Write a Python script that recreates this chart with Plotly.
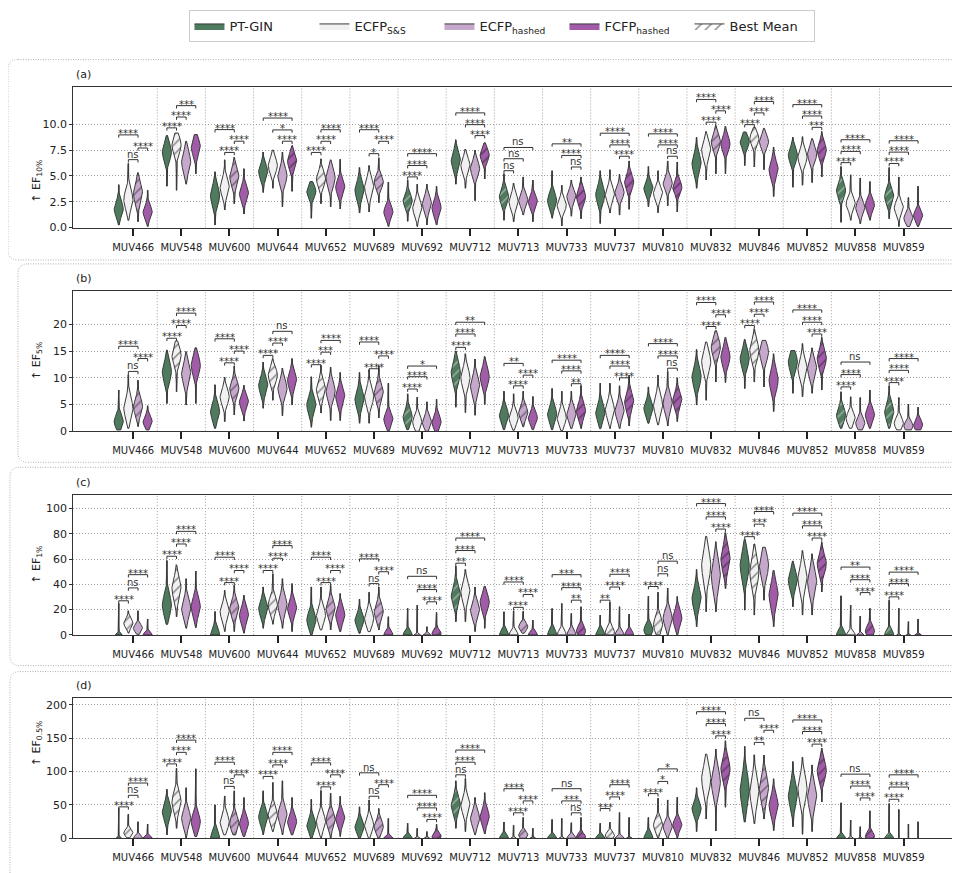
import numpy as np
import plotly.graph_objects as go

TARGETS = ["MUV466", "MUV548", "MUV600", "MUV644", "MUV652", "MUV689", "MUV692", "MUV712",
           "MUV713", "MUV733", "MUV737", "MUV810", "MUV832", "MUV846", "MUV852", "MUV858", "MUV859"]
METHODS = ["PT-GIN", "ECFP<sub>S&amp;S</sub>", "ECFP<sub>hashed</sub>", "FCFP<sub>hashed</sub>"]
COLORS = ["#4e7b5d", "#f1f1f1", "#c7a8cd", "#a25ba9"]
HATCH_FG = ["#e6e6e6", "#1a1a1a", "#1a1a1a", "#1a1a1a"]

# ---------------- (a) EF 10% : per method [PT-GIN, ECFP S&S, ECFP hashed, FCFP hashed]
A_LO = [[0.25, 4.0, 0.25, 3.4, 0.9, 1.4, 0.6, 4.2, 0.7, 0.9, 0.4, 2.0, 3.8, 6.0, 3.9, 0.5, 0.85],
        [0.7, 3.6, 1.7, 3.8, 2.3, 1.5, 0.1, 3.8, 0.56, 0.15, 1.4, 1.44, 4.6, 5.86, 4.1, 0.7, 0.1],
        [0.56, 4.2, 2.3, 2.0, 2.0, 2.4, 0.25, 2.6, 1.2, 1.1, 1.2, 2.1, 5.2, 5.6, 4.35, 0.35, 0.1],
        [0.1, 5.2, 1.3, 3.5, 1.8, 0.1, 0.25, 4.7, 0.56, 0.84, 1.76, 1.5, 5.2, 3.0, 4.9, 0.7, 0.1]]
A_MID = [[1.8, 7.3, 3.1, 5.4, 3.5, 3.6, 2.6, 6.5, 3.0, 2.6, 3.2, 3.8, 6.2, 8.3, 7.0, 3.6, 3.0],
         [2.7, 8.0, 3.9, 6.0, 4.7, 3.9, 1.9, 6.0, 2.5, 2.15, 3.2, 3.3, 7.5, 8.6, 6.8, 2.3, 1.9],
         [3.3, 6.35, 4.9, 5.0, 4.8, 4.4, 2.3, 5.7, 2.65, 3.0, 3.4, 4.3, 8.3, 8.3, 7.1, 1.9, 0.9],
         [1.5, 7.8, 3.3, 6.4, 3.9, 1.5, 1.9, 7.0, 2.5, 3.0, 4.4, 3.9, 8.1, 5.6, 7.5, 2.15, 1.15]]
A_HI = [[4.15, 8.9, 5.4, 7.3, 4.45, 5.8, 4.6, 8.5, 5.2, 5.5, 5.5, 5.9, 8.75, 9.25, 8.75, 5.9, 5.8],
        [6.2, 9.15, 6.55, 7.5, 6.65, 6.0, 4.2, 7.6, 4.3, 4.1, 5.6, 5.5, 9.3, 9.7, 8.8, 5.1, 4.9],
        [5.3, 8.35, 6.8, 7.3, 6.55, 6.75, 4.2, 7.5, 4.9, 4.6, 5.15, 6.45, 9.9, 9.6, 8.6, 4.8, 2.9],
        [3.6, 9.0, 5.7, 7.95, 6.6, 4.4, 4.0, 8.2, 4.6, 4.9, 6.45, 6.35, 9.8, 7.8, 9.3, 4.45, 4.0]]
A_SD = [[0.7, 0.8, 0.9, 0.7, 0.6, 0.8, 0.6, 0.8, 0.7, 0.7, 0.8, 0.6, 0.9, 0.6, 0.7, 0.7, 0.7],
        [0.9, 0.8, 0.8, 0.7, 0.7, 0.8, 0.7, 0.7, 0.7, 0.6, 0.7, 0.6, 0.8, 0.6, 0.7, 0.6, 0.6],
        [0.9, 0.9, 0.8, 0.8, 0.8, 0.6, 0.7, 0.7, 0.6, 0.6, 0.6, 0.6, 0.7, 0.6, 0.7, 0.6, 0.5],
        [0.6, 0.8, 0.7, 0.7, 0.7, 0.6, 0.7, 0.6, 0.6, 0.7, 0.7, 0.6, 0.7, 0.8, 0.7, 0.6, 0.5]]
A_BEST = [2, 1, 2, 3, 1, 2, 0, 3, 0, 3, 3, 3, 2, 1, 3, 0, 0]
A_SIG = [[(1, 2, "ns", 6.57), (2, 3, "****", 7.7), (0, 2, "****", 8.97)],
         [(0, 1, "****", 9.65), (1, 2, "****", 10.7), (1, 3, "***", 11.8)],
         [(1, 2, "****", 7.27), (2, 3, "****", 8.36), (0, 2, "****", 9.48)],
         [(2, 3, "****", 8.36), (1, 3, "*", 9.45), (0, 3, "****", 10.6)],
         [(0, 1, "****", 7.27), (1, 2, "****", 8.35), (1, 3, "****", 9.47)],
         [(1, 2, "*", 7.15), (2, 3, "****", 8.35), (0, 2, "****", 9.47)],
         [(0, 1, "****", 4.9), (0, 2, "****", 6.0), (0, 3, "****", 7.15)],
         [(2, 3, "****", 8.9), (1, 3, "****", 9.96), (0, 3, "****", 11.1)],
         [(0, 1, "ns", 5.5), (0, 2, "ns", 6.66), (0, 3, "ns", 7.75)],
         [(2, 3, "ns", 5.86), (1, 3, "****", 6.98), (0, 3, "**", 8.1)],
         [(2, 3, "****", 6.9), (1, 3, "****", 8.0), (0, 3, "****", 9.13)],
         [(2, 3, "ns", 6.9), (1, 3, "****", 8.0), (0, 3, "****", 9.07)],
         [(1, 2, "****", 10.2), (2, 3, "****", 11.3), (0, 2, "****", 12.4)],
         [(0, 1, "****", 9.96), (1, 2, "****", 11.1), (1, 3, "****", 12.2)],
         [(2, 3, "***", 9.7), (1, 3, "****", 10.8), (0, 3, "****", 11.9)],
         [(0, 1, "****", 6.28), (0, 2, "****", 7.37), (0, 3, "****", 8.5)],
         [(0, 1, "****", 6.2), (0, 2, "****", 7.3), (0, 3, "****", 8.4)]]

# ---------------- (b) EF 5%
B_LO = [[0.25, 5.2, 0.56, 4.3, 0.75, 1.5, 0.3, 4.5, 0.3, 0.3, 0.5, 1.5, 4.9, 8.0, 7.1, 0.56, 0.56],
        [0.56, 7.4, 1.8, 5.8, 3.4, 1.5, 0.0, 3.5, 0.2, 0.1, 0.5, 1.2, 5.8, 9.2, 6.45, 0.56, 0.25],
        [0.87, 4.9, 3.05, 2.9, 2.0, 2.5, 0.0, 3.0, 0.8, 0.5, 0.5, 1.0, 9.2, 8.3, 7.1, 0.25, 0.25],
        [0.25, 5.2, 1.9, 4.9, 2.0, 0.1, 0.0, 5.0, 0.3, 0.5, 1.0, 1.8, 9.1, 3.7, 7.7, 0.56, 0.25]]
B_MID = [[1.8, 11.1, 3.7, 8.6, 4.9, 6.0, 2.7, 11.0, 3.0, 3.2, 3.5, 4.3, 10.2, 13.6, 13.0, 3.05, 3.66],
         [4.3, 14.2, 6.45, 10.5, 7.8, 6.5, 1.7, 10.0, 2.5, 2.5, 4.0, 4.9, 13.0, 15.1, 11.7, 2.4, 1.5],
         [4.6, 10.8, 8.0, 8.0, 7.5, 7.2, 1.7, 8.5, 3.5, 3.2, 3.8, 5.2, 15.7, 14.8, 11.7, 1.5, 1.0],
         [1.8, 12.3, 5.5, 9.55, 6.5, 2.2, 1.7, 10.2, 2.5, 3.8, 5.5, 5.8, 13.9, 9.55, 13.6, 3.05, 1.2]]
B_HI = [[7.7, 15.2, 8.7, 12.95, 10.2, 11.0, 7.0, 15.0, 7.5, 8.0, 9.0, 8.3, 15.3, 17.2, 15.1, 7.4, 8.5],
        [10.6, 16.9, 10.1, 13.6, 12.3, 11.5, 6.4, 14.5, 7.0, 7.5, 9.0, 10.5, 16.7, 19.2, 16.4, 6.45, 6.3],
        [9.55, 14.9, 12.2, 11.8, 12.0, 12.3, 5.5, 13.5, 7.5, 7.5, 8.5, 11.2, 18.8, 17.0, 15.6, 6.3, 5.1],
        [4.78, 15.6, 8.6, 13.6, 11.0, 9.0, 6.0, 14.0, 6.5, 8.5, 10.5, 10.0, 17.6, 14.5, 17.6, 7.7, 4.5]]
B_SD = [[1.2, 1.8, 1.5, 1.5, 1.5, 1.6, 1.3, 1.8, 1.3, 1.4, 1.5, 1.3, 1.8, 1.6, 1.6, 1.3, 1.5],
        [1.8, 1.6, 1.4, 1.4, 1.5, 1.6, 1.2, 1.7, 1.2, 1.3, 1.5, 1.7, 1.8, 1.7, 1.7, 1.1, 1.0],
        [1.5, 1.8, 1.4, 1.5, 1.6, 1.5, 1.1, 1.7, 1.2, 1.3, 1.4, 1.6, 1.6, 1.6, 1.6, 1.0, 0.8],
        [1.0, 1.7, 1.2, 1.5, 1.5, 1.2, 1.2, 1.6, 1.1, 1.4, 1.6, 1.4, 1.6, 1.9, 1.6, 1.2, 0.9]]
B_BEST = [2, 1, 2, 1, 1, 2, 0, 0, 2, 3, 3, 3, 2, 1, 3, 0, 0]
B_SIG = [[(1, 2, "ns", 11.2), (2, 3, "****", 13.6), (0, 2, "****", 15.9)],
         [(0, 1, "****", 17.4), (1, 2, "****", 19.8), (1, 3, "****", 22.1)],
         [(1, 2, "****", 12.8), (2, 3, "****", 15.0), (0, 2, "****", 17.3)],
         [(0, 1, "****", 14.2), (1, 2, "****", 16.5), (1, 3, "ns", 18.7)],
         [(0, 1, "****", 12.45), (1, 2, "***", 14.8), (1, 3, "****", 17.0)],
         [(1, 2, "****", 11.7), (2, 3, "****", 14.1), (0, 2, "****", 16.7)],
         [(0, 1, "****", 7.9), (0, 2, "****", 10.2), (0, 3, "*", 12.2)],
         [(0, 1, "****", 15.7), (0, 2, "****", 18.2), (0, 3, "**", 20.4)],
         [(1, 2, "****", 8.5), (2, 3, "****", 10.5), (0, 2, "**", 12.7)],
         [(2, 3, "**", 8.9), (1, 3, "****", 11.3), (0, 3, "****", 13.3)],
         [(2, 3, "****", 10.0), (1, 3, "****", 12.2), (0, 3, "****", 14.2)],
         [(2, 3, "ns", 11.8), (1, 3, "****", 14.1), (0, 3, "****", 16.4)],
         [(1, 2, "****", 19.6), (2, 3, "****", 21.8), (0, 2, "****", 24.1)],
         [(0, 1, "****", 19.8), (1, 2, "****", 21.9), (1, 3, "****", 24.2)],
         [(2, 3, "****", 18.2), (1, 3, "****", 20.4), (0, 3, "****", 22.7)],
         [(0, 1, "****", 8.3), (0, 2, "****", 10.6), (0, 3, "ns", 12.95)],
         [(0, 1, "****", 9.1), (0, 2, "****", 11.4), (0, 3, "****", 13.6)]]

# ---------------- (c) EF 1%
C_LO = [[0, 8.4, 0, 5.2, 0, 1.3, 0, 10.5, 0, 0, 0, 0, 6.5, 19.6, 22.3, 0, 0],
        [1.3, 14.4, 2.6, 8.4, 3.9, 2.6, 0, 10.5, 0, 0, 0, 0, 18.3, 15.7, 15.7, 0, 0],
        [0.5, 5.2, 2.6, 5.2, 3.9, 3.9, 0, 2.6, 1.3, 0, 0, 0, 18.3, 27.5, 15.7, 0, 0],
        [0, 5.8, 1.3, 2.6, 2.6, 0, 0, 5.2, 0, 0, 0, 0, 36.7, 6.5, 34.0, 0, 0]]
C_MID = [[-1.5, 23.6, 0, 21, 11.8, 11.8, 0, 31.4, 0, 0, 0, 4, 28.8, 55, 43.2, 0, 0],
         [9.2, 36.7, 18.3, 23.6, 15.7, 13.1, -1, 34, 0, 0, 2, 8, 55, 49.7, 44.5, 0, -1],
         [5.2, 21, 21, 23.6, 21, 18.3, -1, 19.6, 6.5, 0, 0, 13.1, 47, 55, 41.9, -1, -1],
         [0, 22.3, 15.7, 21, 15.7, 0, 1, 26, 0, 3, 0, 13.1, 60, 31.4, 56.3, 3, -1]]
C_HI = [[24.9, 58.9, 18.5, 38, 38, 28.3, 21, 54.5, 18.3, 20.9, 15.7, 30.6, 51.8, 75.4, 58.4, 30.9, 27.5],
        [19.1, 55.5, 35.3, 48.4, 38, 33.8, 23.6, 51.8, 19.1, 24.9, 25.7, 33.8, 78, 72, 66.8, 23.6, 21],
        [19.1, 44.5, 39.3, 44.5, 39.3, 38, 6.5, 38, 18.8, 17, 22.3, 37.1, 73.8, 69.4, 64.2, 14.9, 10.5],
        [12.6, 50.5, 31.4, 40.6, 32.7, 14.4, 17.8, 38.5, 11.8, 22.3, 16.5, 30.4, 81, 51, 73.8, 21, 12.6]]
C_SD = [[2, 8, 5, 6, 6, 5, 3, 7, 3.5, 4, 3.5, 4, 8, 10, 7, 3.5, 3.5],
        [3.5, 8, 6, 6, 6, 6, 1.2, 7, 3, 3.5, 4, 6, 11, 10, 9, 2.5, 0.8],
        [3, 7, 6, 7, 6, 6, 1.5, 6, 3, 3.5, 3, 6, 11, 9, 9, 1.5, 0.8],
        [2, 7, 6, 6, 6, 3, 3, 6, 2.5, 4, 3, 6, 9, 9, 7, 4, 1.2]]
C_BEST = [1, 1, 2, 1, 2, 2, 3, 0, 2, 3, 1, 1, 3, 1, 3, 3, 0]
C_SIG = [[(0, 1, "****", 27), (1, 2, "ns", 37.2), (1, 3, "****", 47.7)],
         [(0, 1, "****", 62.3), (1, 2, "****", 72), (1, 3, "****", 82)],
         [(1, 2, "****", 41.4), (2, 3, "****", 51), (0, 2, "****", 61.5)],
         [(0, 1, "****", 51), (1, 2, "****", 60.7), (1, 3, "****", 70.7)],
         [(1, 2, "****", 41.4), (2, 3, "****", 51), (0, 2, "****", 61.5)],
         [(1, 2, "ns", 40.6), (2, 3, "****", 50), (0, 2, "****", 60.2)],
         [(2, 3, "****", 26.2), (1, 3, "****", 35.9), (0, 3, "ns", 46.4)],
         [(0, 1, "**", 56.8), (0, 2, "****", 66.8), (0, 3, "****", 76.7)],
         [(1, 2, "****", 21.8), (2, 3, "****", 32), (0, 2, "****", 41.9)],
         [(2, 3, "**", 27.5), (1, 3, "****", 37.4), (0, 3, "***", 47.7)],
         [(0, 1, "**", 27.5), (1, 2, "****", 37.9), (1, 3, "****", 48)],
         [(0, 1, "****", 38.3), (1, 2, "ns", 48.4), (1, 3, "ns", 58.4)],
         [(2, 3, "****", 83.8), (1, 3, "****", 93.5), (0, 3, "****", 104)],
         [(0, 1, "****", 77.8), (1, 2, "***", 87.7), (1, 3, "****", 97.7)],
         [(2, 3, "****", 76.7), (1, 3, "****", 86.4), (0, 3, "****", 96.4)],
         [(2, 3, "****", 33.5), (1, 3, "****", 43.7), (0, 3, "**", 53.7)],
         [(0, 1, "****", 30.1), (0, 2, "****", 40.6), (0, 3, "****", 49.7)]]

# ---------------- (d) EF 0.5%
D_LO = [[0, 5, 0, 5, 0, 0, 0, 14.8, 0, 0, 0, 0, 9.9, 24.3, 17.3, 0, 0],
        [0.7, 14.8, 5, 9.9, 0, 0, 0, 9.9, 0, 0, 0, 0, 28.7, 21.8, 5.9, 0, 0],
        [0, 0, 5, 5, 0, 0, 0, 5, 0, 0, 0, 0, 10.9, 28.7, 9.9, 0, 0],
        [0, 2.5, 2.5, 5, 2.5, 0, 0, 6.4, 0, 0, 0, 0, 46.5, 11.4, 54.4, 0, 0]]
D_MID = [[-3, 40, 0, 32, 19.8, 17.3, 0, 50, 0, 0, 0, 0, 44.5, 71.7, 64.3, 0, 0],
         [8, 54.4, 24.7, 34.7, 24.7, 19.8, -2, 49.5, -2, -2, 4, 19.8, 89.1, 69.3, 74.2, -2, -3],
         [0, 29.7, 22.3, 34.7, 27.2, 17.3, -2, 29.7, 5, 0, 0, 17.3, 84, 74.2, 61.9, -2, -3],
         [0, 24.7, 22.3, 24.7, 29.7, 0, 3, 32.2, -2, 2, -2, 19.8, 104, 49.5, 101.4, 3, -3]]
D_HI = [[45, 73.3, 50, 71, 58.4, 47, 22.3, 86, 24.3, 28.2, 22.3, 31.2, 75.7, 137.6, 114.8, 53, 52],
        [36, 105, 63.4, 83.5, 71.4, 57.4, 14.8, 89.5, 19.3, 29.7, 24, 60, 126, 125, 121.2, 27.2, 43],
        [24.7, 75.7, 71, 86, 67.5, 44.5, 9.9, 61, 31.2, 23.3, 38.6, 57.4, 133.6, 124.7, 109.9, 17.3, 21.3],
        [21.3, 104, 60.9, 61, 62.9, 29.7, 20.8, 68.3, 14.8, 31.2, 31.2, 61.4, 146, 89.1, 135.2, 41, 24.7]]
D_SD = [[3, 12, 10, 11, 10, 9, 4, 12, 5, 4, 4, 7, 10, 22, 17, 4, 4],
        [5, 14, 11, 11, 11, 10, 2, 12, 2, 2, 5, 9, 18, 20, 18, 2, 1],
        [4, 12, 11, 12, 11, 9, 2, 11, 5, 4, 3, 8, 18, 18, 17, 1.5, 1],
        [3, 12, 10, 10, 10, 3, 5, 11, 2, 5, 2, 8, 15, 14, 14, 6, 1]]
D_BEST = [1, 1, 2, 1, 2, 2, 3, 0, 2, 3, 1, 1, 3, 2, 3, 3, 0]
D_SIG = [[(0, 1, "****", 47), (1, 2, "ns", 64.3), (1, 3, "****", 82.7)],
         [(0, 1, "****", 111.4), (1, 2, "****", 128.7), (1, 3, "****", 147)],
         [(1, 2, "ns", 77.7), (2, 3, "****", 95), (0, 2, "****", 113.9)],
         [(0, 1, "****", 92.6), (1, 2, "****", 109.9), (1, 3, "****", 128.7)],
         [(1, 2, "****", 77), (2, 3, "****", 95), (0, 2, "****", 113)],
         [(1, 2, "ns", 62.9), (2, 3, "****", 80.2), (0, 2, "ns", 98)],
         [(2, 3, "****", 28.2), (1, 3, "****", 45.5), (0, 3, "****", 64.3)],
         [(0, 1, "ns", 95), (0, 2, "****", 113.9), (0, 3, "****", 132.1)],
         [(1, 2, "****", 38.1), (2, 3, "****", 55.9), (0, 2, "****", 74.2)],
         [(2, 3, "ns", 38.1), (1, 3, "***", 55.9), (0, 3, "ns", 74.2)],
         [(0, 1, "***", 44.5), (1, 2, "****", 61.9), (1, 3, "****", 80.2)],
         [(0, 1, "****", 66.8), (1, 2, "*", 85.1), (1, 3, "*", 103.9)],
         [(2, 3, "****", 153.4), (1, 3, "****", 171.8), (0, 3, "****", 189.6)],
         [(1, 2, "**", 143.6), (2, 3, "****", 161.8), (0, 2, "ns", 179.7)],
         [(2, 3, "****", 141), (1, 3, "****", 159.9), (0, 3, "****", 177.2)],
         [(2, 3, "****", 60.4), (1, 3, "****", 78.2), (0, 3, "ns", 96)],
         [(0, 1, "****", 58.4), (0, 2, "****", 76.7), (0, 3, "****", 95)]]

PANELS = [
    dict(label="(a)", title="↑ EF<sub>10%</sub>", lo=A_LO, mid=A_MID, hi=A_HI, sd=A_SD, best=A_BEST, sig=A_SIG,
         ytop=13.6, tickvals=[0, 2.5, 5, 7.5, 10], ticktext=["0.0", "2.5", "5.0", "7.5", "10.0"],
         px=(87.7, 229.3), frame=(8, 60, 262)),
    dict(label="(b)", title="↑ EF<sub>5%</sub>", lo=B_LO, mid=B_MID, hi=B_HI, sd=B_SD, best=B_BEST, sig=B_SIG,
         ytop=26.3, tickvals=[0, 5, 10, 15, 20], ticktext=["0", "5", "10", "15", "20"],
         px=(293.0, 434.7), frame=(18, 266, 466)),
    dict(label="(c)", title="↑ EF<sub>1%</sub>", lo=C_LO, mid=C_MID, hi=C_HI, sd=C_SD, best=C_BEST, sig=C_SIG,
         ytop=111, tickvals=[0, 20, 40, 60, 80, 100], ticktext=["0", "20", "40", "60", "80", "100"],
         px=(498.7, 640.0), frame=(10, 471, 671)),
    dict(label="(d)", title="↑ EF<sub>0.5%</sub>", lo=D_LO, mid=D_MID, hi=D_HI, sd=D_SD, best=D_BEST, sig=D_SIG,
         ytop=210, tickvals=[0, 50, 100, 150, 200], ticktext=["0", "50", "100", "150", "200"],
         px=(703.7, 845.0), frame=(10, 677, 890)),
]

# the page body has an 8px margin, so the figure is laid out 8px in from the window corner
PAGE_OFF = 8
W_FIG, H_FIG = 960 - PAGE_OFF, 873 - PAGE_OFF
OFFSETS = [-0.3, -0.1, 0.1, 0.3]
HALF_W = 0.095
XRANGE = [-1.245, 17.15]
LINE_C = "#3a3a3a"
GRID_C = "#a0a0a0"
DOT = "1px,2px"
FONT = "DejaVu Sans"


def pxx(x):
    return (x - PAGE_OFF) / W_FIG


def pxy(y):
    return 1 - (y - PAGE_OFF) / H_FIG


def violin_poly(pos, lo, mid, hi, sd):
    y = np.linspace(lo, hi, 70)
    w = HALF_W * np.exp(-0.5 * ((y - mid) / sd) ** 2)
    xs = np.concatenate([pos + w, (pos - w)[::-1], [pos + w[0]]])
    ys = np.concatenate([y, y[::-1], [y[0]]])
    return list(xs), list(ys)


fig = go.Figure()
annotations = []
shapes = []
layout_axes = {}

for k, P in enumerate(PANELS):
    sfx = "" if k == 0 else str(k + 1)
    xa, ya = "x" + sfx, "y" + sfx
    # whisker lines first (under the violin bodies)
    whx, why = [], []
    for m in range(4):
        for t in range(len(TARGETS)):
            pos = t + OFFSETS[m]
            whx.extend([pos, pos, None])
            why.extend([P["lo"][m][t], P["hi"][m][t], None])
    fig.add_trace(go.Scatter(x=whx, y=why, xaxis=xa, yaxis=ya, mode="lines",
                             line=dict(color=LINE_C, width=1.5), hoverinfo="skip", showlegend=False))
    for m in range(4):
        groups = {False: ([], []), True: ([], [])}
        for t in range(len(TARGETS)):
            pos = t + OFFSETS[m]
            xs, ys = violin_poly(pos, P["lo"][m][t], P["mid"][m][t], P["hi"][m][t], P["sd"][m][t])
            gx, gy = groups[P["best"][t] == m]
            gx.extend(xs + [None])
            gy.extend(ys + [None])
        for hatched in (False, True):
            gx, gy = groups[hatched]
            if not gx:
                continue
            kw = dict(x=gx, y=gy, xaxis=xa, yaxis=ya, mode="lines", fill="toself",
                      fillcolor=COLORS[m], line=dict(color=LINE_C, width=1),
                      hoverinfo="skip", name=METHODS[m], legendgroup=METHODS[m],
                      showlegend=(k == 0 and not hatched))
            if hatched:
                kw["fillpattern"] = dict(shape="/", fgcolor=HATCH_FG[m], bgcolor=COLORS[m],
                                         size=7, solidity=0.22)
            fig.add_trace(go.Scatter(**kw))
    # significance brackets
    tip = 0.02 * P["ytop"]
    bx, by = [], []
    for t, sigs in enumerate(P["sig"]):
        for (i, j, lab, yv) in sigs:
            x1, x2 = t + OFFSETS[i], t + OFFSETS[j]
            bx.extend([x1, x1, x2, x2, None])
            by.extend([yv - tip, yv, yv, yv - tip, None])
            annotations.append(dict(x=(x1 + x2) / 2, y=yv, xref=xa, yref=ya, text=lab,
                                    showarrow=False, yanchor="bottom",
                                    yshift=-6 if "*" in lab else -2,
                                    font=dict(size=10, color="#333", family=FONT)))
    fig.add_trace(go.Scatter(x=bx, y=by, xaxis=xa, yaxis=ya, mode="lines",
                             line=dict(color="#333", width=1), hoverinfo="skip", showlegend=False))

    top_px, bot_px = P["px"]
    dom = [pxy(bot_px), pxy(top_px)]
    layout_axes["xaxis" + sfx] = dict(domain=[pxx(73.3), 1.0], range=XRANGE, anchor=ya,
                                      tickmode="array", tickvals=list(range(len(TARGETS))),
                                      ticktext=TARGETS, ticks="outside", ticklen=7, tickwidth=1.6,
                                      tickcolor="#222", showgrid=False, zeroline=False,
                                      showline=True, linecolor="#333", linewidth=1, mirror=True,
                                      ticklabelstandoff=3,
                                      tickfont=dict(size=10, color="#222", family=FONT))
    layout_axes["yaxis" + sfx] = dict(domain=dom, range=[0, P["ytop"]], anchor=xa,
                                      tickmode="array", tickvals=P["tickvals"], ticktext=P["ticktext"],
                                      ticks="outside", ticklen=3, tickcolor="#333",
                                      showgrid=True, gridcolor=GRID_C, griddash=DOT, gridwidth=1,
                                      zeroline=False, showline=True, linecolor="#333", linewidth=1,
                                      mirror=True, tickfont=dict(size=11, color="#222", family=FONT))
    # vertical separators between targets
    for t in range(len(TARGETS) - 1):
        shapes.append(dict(type="line", xref=xa, yref=ya + " domain", x0=t + 0.5, x1=t + 0.5,
                           y0=0, y1=1, line=dict(color=GRID_C, width=1, dash=DOT), layer="below"))
    # y title and panel label
    annotations.append(dict(x=pxx(28), y=(dom[0] + dom[1]) / 2, xref="paper", yref="paper",
                            text=P["title"], textangle=-90, showarrow=False,
                            font=dict(size=11, color="#222", family=FONT)))
    annotations.append(dict(x=pxx(74), y=pxy(top_px - 12.5), xref="paper", yref="paper",
                            text=P["label"], showarrow=False, xanchor="left", yanchor="middle",
                            font=dict(size=11, color="#222", family=FONT)))
    # dotted rounded frame around each panel
    L, T, B = P["frame"]
    R = 1000
    r = 10

    def pt(x, y):
        return f"{pxx(x):.5f},{pxy(y):.5f}"

    path = (f"M{pt(L + r, T)} L{pt(R, T)} M{pt(R, B)} L{pt(L + r, B)} "
            f"Q{pt(L, B)} {pt(L, B - r)} L{pt(L, T + r)} Q{pt(L, T)} {pt(L + r, T)}")
    shapes.append(dict(type="path", xref="paper", yref="paper", path=path,
                       line=dict(color="#b0b0b0", width=1, dash="1px,1.5px")))

# legend entry for best mean
fig.add_trace(go.Scatter(x=[None], y=[None], mode="lines", fill="toself", fillcolor="white",
                         fillpattern=dict(shape="/", fgcolor="#1a1a1a", bgcolor="white", size=7, solidity=0.22),
                         line=dict(color=LINE_C, width=1), name="Best Mean", showlegend=True))

fig.update_layout(
    width=W_FIG, height=H_FIG, margin=dict(l=0, r=0, t=0, b=0),
    plot_bgcolor="white", paper_bgcolor="white",
    font=dict(family=FONT, size=11, color="#222"),
    legend=dict(orientation="h", x=pxx(503), xanchor="center", y=pxy(10), yanchor="top",
                bordercolor="#cccccc", borderwidth=1, font=dict(size=13, family=FONT, color="#222"),
                bgcolor="white", itemwidth=30, entrywidth=80, entrywidthmode="pixels"),
    annotations=annotations, shapes=shapes,
    **layout_axes,
)

fig.write_html("out.html")
